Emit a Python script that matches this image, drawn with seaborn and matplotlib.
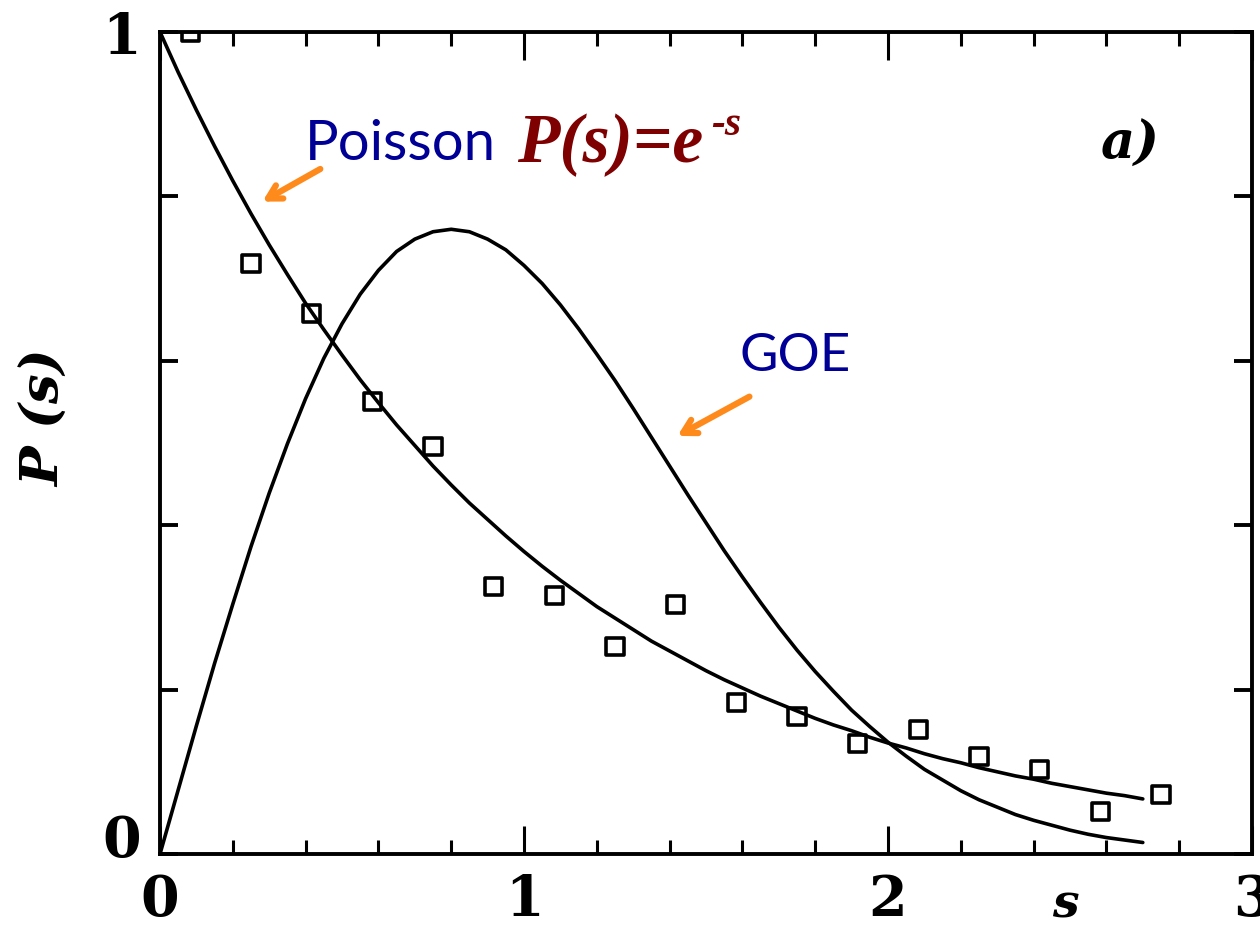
import matplotlib
matplotlib.use("Agg")
import pandas as pd
import seaborn as sns
import matplotlib.pyplot as plt
import matplotlib.transforms as mtransforms

# level spacing histogram (squares)
s_points = [0.083, 0.25, 0.417, 0.583, 0.75, 0.917, 1.083, 1.25, 1.417,
            1.583, 1.75, 1.917, 2.083, 2.25, 2.417, 2.583, 2.75]
p_points = [1.0, 0.718, 0.658, 0.551, 0.496, 0.326, 0.315, 0.252, 0.304,
            0.184, 0.167, 0.135, 0.151, 0.119, 0.103, 0.052, 0.072]

# curves, read along s = 0 .. 2.7 in steps of 0.05
s_curve = [0.0, 0.05, 0.1, 0.15, 0.2, 0.25, 0.3, 0.35, 0.4, 0.45, 0.5, 0.55,
           0.6, 0.65, 0.7, 0.75, 0.8, 0.85, 0.9, 0.95, 1.0, 1.05, 1.1, 1.15,
           1.2, 1.25, 1.3, 1.35, 1.4, 1.45, 1.5, 1.55, 1.6, 1.65, 1.7, 1.75,
           1.8, 1.85, 1.9, 1.95, 2.0, 2.05, 2.1, 2.15, 2.2, 2.25, 2.3, 2.35,
           2.4, 2.45, 2.5, 2.55, 2.6, 2.65, 2.7]
p_poisson = [1.000, 0.951, 0.905, 0.861, 0.819, 0.779, 0.741, 0.705, 0.670, 0.638,
             0.607, 0.577, 0.549, 0.522, 0.497, 0.472, 0.449, 0.427, 0.407, 0.387,
             0.368, 0.350, 0.333, 0.317, 0.301, 0.287, 0.273, 0.259, 0.247, 0.235,
             0.223, 0.212, 0.202, 0.192, 0.183, 0.174, 0.165, 0.157, 0.150, 0.142,
             0.135, 0.129, 0.122, 0.116, 0.111, 0.105, 0.100, 0.095, 0.091, 0.086,
             0.082, 0.078, 0.074, 0.071, 0.067]
p_goe = [0.000, 0.078, 0.156, 0.232, 0.304, 0.374, 0.439, 0.499, 0.554, 0.603,
         0.645, 0.681, 0.710, 0.733, 0.748, 0.757, 0.760, 0.757, 0.748, 0.735,
         0.716, 0.694, 0.668, 0.639, 0.608, 0.576, 0.542, 0.507, 0.472, 0.437,
         0.403, 0.369, 0.337, 0.306, 0.276, 0.248, 0.222, 0.198, 0.175, 0.155,
         0.136, 0.119, 0.103, 0.090, 0.077, 0.066, 0.057, 0.048, 0.041, 0.035,
         0.029, 0.024, 0.020, 0.017, 0.014]

x_ticks = [0, 1, 2, 3]
y_ticks = [0, 0.2, 0.4, 0.6, 0.8, 1.0]
y_ticklabels = ["0", "", "", "", "", "1"]

pts = pd.DataFrame({"s": s_points, "P": p_points})
curves = pd.DataFrame({"s": s_curve * 2,
                       "P": p_poisson + p_goe,
                       "curve": ["Poisson"] * len(s_curve) + ["GOE"] * len(s_curve)})

sns.set_theme(style="ticks")
plt.rcParams["font.family"] = ["DejaVu Serif"]
plt.rcParams["text.color"] = "black"
plt.rcParams["xtick.color"] = "black"
plt.rcParams["ytick.color"] = "black"

fig = plt.figure(figsize=(12.6, 9.27), dpi=100)
ax = fig.add_axes([160 / 1260, 73 / 927, 1092 / 1260, 822 / 927])

sns.lineplot(data=curves, x="s", y="P", units="curve", estimator=None,
             color="black", lw=2.6, ax=ax, legend=False)
sns.scatterplot(data=pts, x="s", y="P", marker="s", s=150, facecolor="none",
                edgecolor="black", linewidth=2.6, ax=ax, legend=False)

ax.set_xlim(0, 3)
ax.set_ylim(0, 1)
for sp in ax.spines.values():
    sp.set_linewidth(2.8)
    sp.set_color("black")

ax.set_xticks(x_ticks)
ax.set_xticklabels([str(t) for t in x_ticks])
ax.set_xticks([0.2, 0.4, 0.6, 0.8, 1.2, 1.4, 1.6, 1.8, 2.2, 2.4, 2.6, 2.8], minor=True)
ax.set_yticks(y_ticks)
ax.set_yticklabels(y_ticklabels)
ax.tick_params(axis="x", which="major", direction="in", length=20, width=2.2,
               top=True, pad=14, labelsize=40)
ax.tick_params(axis="x", which="minor", direction="in", length=10, width=2.2, top=True)
ax.tick_params(axis="y", which="major", direction="in", length=13, width=2.8,
               right=True, pad=14, labelsize=40)
for lab in ax.get_xticklabels() + ax.get_yticklabels():
    lab.set_fontweight("bold")
# the lower "0" sits a bit above the axis in the original
zero = ax.get_yticklabels()[0]
zero.set_transform(zero.get_transform()
                   + mtransforms.ScaledTranslation(0, 0.19, fig.dpi_scale_trans))

ax.set_xlabel("")
ax.set_ylabel("")
ax.text(-0.105, 0.53, "P (s)", transform=ax.transAxes, rotation=90, fontsize=38,
        fontweight="bold", fontstyle="italic", ha="center", va="center")
ax.text(0.829, -0.062, "s", transform=ax.transAxes, fontsize=34, fontweight="bold",
        fontstyle="italic", ha="center", va="center")
ax.text(0.888, 0.863, "a)", transform=ax.transAxes, fontsize=38, fontweight="bold",
        fontstyle="italic", ha="center", va="center")

navy = "#000096"
darkred = "#7F0000"
orange = "#FF8A1C"
ax.text(0.1328, 0.844, "Poisson", transform=ax.transAxes, fontsize=40.5, color=navy,
        family=["Lato"], ha="left", va="baseline")
ax.text(0.327, 0.842, "P(s)=e", transform=ax.transAxes, fontsize=50, color=darkred,
        family=["Liberation Serif"], fontweight="bold", fontstyle="italic",
        ha="left", va="baseline")
ax.text(0.505, 0.875, "-s", transform=ax.transAxes, fontsize=30, color=darkred,
        family=["Liberation Serif"], fontweight="bold", fontstyle="italic",
        ha="left", va="baseline")
ax.text(0.531, 0.605, "GOE", transform=ax.transAxes, fontsize=38, color=navy,
        family=["Lato"], ha="left", va="center")

arrow = dict(arrowstyle="->,head_length=0.8,head_width=0.45", color=orange, lw=4.5)
ax.annotate("", xy=(0.0916, 0.792), xytext=(0.149, 0.835),
            xycoords="axes fraction", textcoords="axes fraction", arrowprops=arrow)
ax.annotate("", xy=(0.4716, 0.507), xytext=(0.542, 0.558),
            xycoords="axes fraction", textcoords="axes fraction", arrowprops=arrow)

fig.savefig("out.png", dpi=100)
